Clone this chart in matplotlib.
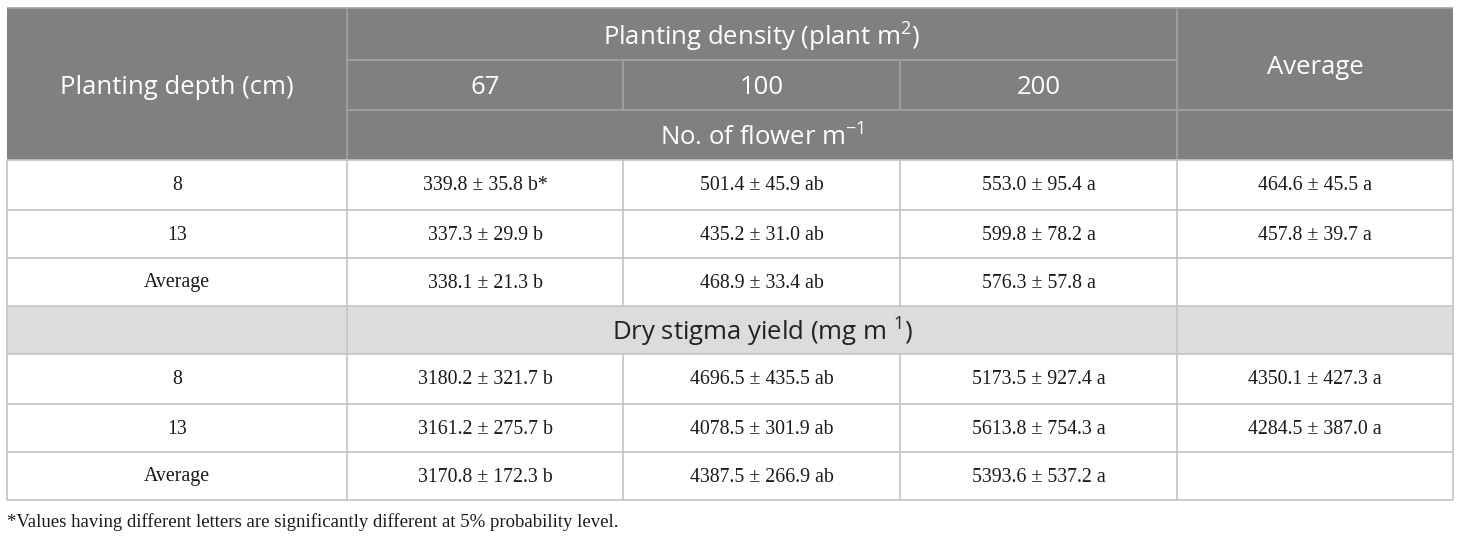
import matplotlib
matplotlib.use("Agg")
import matplotlib.pyplot as plt
from matplotlib.patches import Rectangle

# ─── Données ───────────────────────────────────────────────
densities = ["67", "100", "200"]
row_labels = ["8", "13", "Average"]

flowers = [
    ["339.8 ± 35.8 b*", "501.4 ± 45.9 ab", "553.0 ± 95.4 a", "464.6 ± 45.5 a"],
    ["337.3 ± 29.9 b", "435.2 ± 31.0 ab", "599.8 ± 78.2 a", "457.8 ± 39.7 a"],
    ["338.1 ± 21.3 b", "468.9 ± 33.4 ab", "576.3 ± 57.8 a", ""],
]
stigma = [
    ["3180.2 ± 321.7 b", "4696.5 ± 435.5 ab", "5173.5 ± 927.4 a", "4350.1 ± 427.3 a"],
    ["3161.2 ± 275.7 b", "4078.5 ± 301.9 ab", "5613.8 ± 754.3 a", "4284.5 ± 387.0 a"],
    ["3170.8 ± 172.3 b", "4387.5 ± 266.9 ab", "5393.6 ± 537.2 a", ""],
]

footnote = "*Values having different letters are significantly different at 5% probability level."

# ─── Mise en page (pixels) ─────────────────────────────────
W, H = 1460, 538
cols = [7, 347, 623, 900, 1177, 1453]
head = [8, 60, 110, 160]
body = [160, 210, 258, 306, 354, 404, 452, 500]

HEAD_BG = "#7f807f"
BAND_BG = "#dcdcdc"
HEAD_LINE = "#a3a3a3"
LINE = "#c4c4c4"
SANS = "Open Sans"
SERIF = "Liberation Serif"
HEAD_FS = 18.5
BODY_FS = 14.3
DY = 3  # petit décalage vertical du texte d'en-tête

plt.rcParams["mathtext.fontset"] = "custom"
plt.rcParams["mathtext.rm"] = SANS
plt.rcParams["mathtext.it"] = SANS

fig = plt.figure(figsize=(W / 100, H / 100), dpi=100)
ax = fig.add_axes([0, 0, 1, 1])
ax.set_xlim(0, W)
ax.set_ylim(H, 0)
ax.axis("off")


def hline(y, x0, x1, c=LINE):
    ax.plot([x0, x1], [y, y], color=c, lw=1.2, solid_capstyle="butt")


def vline(x, y0, y1, c=LINE):
    ax.plot([x, x], [y0, y1], color=c, lw=1.2, solid_capstyle="butt")


def mid(a, b):
    return (a + b) / 2


# En-tête gris
ax.add_patch(Rectangle((cols[0], head[0]), cols[-1] - cols[0], head[-1] - head[0],
                       facecolor=HEAD_BG, edgecolor="none"))
hline(head[0], cols[0], cols[-1], HEAD_LINE)
hline(head[1], cols[1], cols[4], HEAD_LINE)
hline(head[2], cols[1], cols[-1], HEAD_LINE)
for x in (cols[1], cols[4]):
    vline(x, head[0], head[-1], HEAD_LINE)
for x in (cols[2], cols[3]):
    vline(x, head[1], head[2], HEAD_LINE)

hkw = dict(color="white", family=SANS, fontsize=HEAD_FS, ha="center", va="center")
ax.text(mid(cols[0], cols[1]), mid(head[0], head[-1]) + DY, "Planting depth (cm)", **hkw)
ax.text(mid(cols[1], cols[4]), mid(head[0], head[1]) + DY, r"Planting density (plant m$^{2}$)", **hkw)
for i, d in enumerate(densities):
    ax.text(mid(cols[i + 1], cols[i + 2]), mid(head[1], head[2]) + DY, d, **hkw)
ax.text(mid(cols[4], cols[5]), mid(head[0], head[2]) + 8, "Average", **hkw)
ax.text(mid(cols[1], cols[4]), mid(head[2], head[3]) + DY, r"No. of flower m$^{-1}$", **hkw)

# Bande "Dry stigma yield"
ax.add_patch(Rectangle((cols[0], body[3]), cols[-1] - cols[0], body[4] - body[3],
                       facecolor=BAND_BG, edgecolor="none"))
ax.text(mid(cols[1], cols[4]), mid(body[3], body[4]) + 2, r"Dry stigma yield (mg m $^{1}$)",
        color="#222222", family=SANS, fontsize=HEAD_FS, ha="center", va="center")

# Lignes du corps
for y in body:
    hline(y, cols[0], cols[-1])
for x in (cols[0], cols[-1]):
    vline(x, body[0], body[-1])
for x in (cols[1], cols[4]):
    vline(x, body[0], body[-1])
for x in (cols[2], cols[3]):
    vline(x, body[0], body[3])
    vline(x, body[4], body[-1])

bkw = dict(color="#1a1a1a", family=SERIF, fontsize=BODY_FS, ha="center", va="center")
for block, start in ((flowers, 0), (stigma, 4)):
    for r, (lab, vals) in enumerate(zip(row_labels, block)):
        yc = mid(body[start + r], body[start + r + 1]) + 1
        ax.text(mid(cols[0], cols[1]), yc, lab, **bkw)
        for c, v in enumerate(vals):
            ax.text(mid(cols[c + 1], cols[c + 2]), yc, v, **bkw)

ax.text(cols[0], 522, footnote, color="#1a1a1a", family=SERIF, fontsize=13.5,
        ha="left", va="center")

fig.savefig("out.png", dpi=100)
